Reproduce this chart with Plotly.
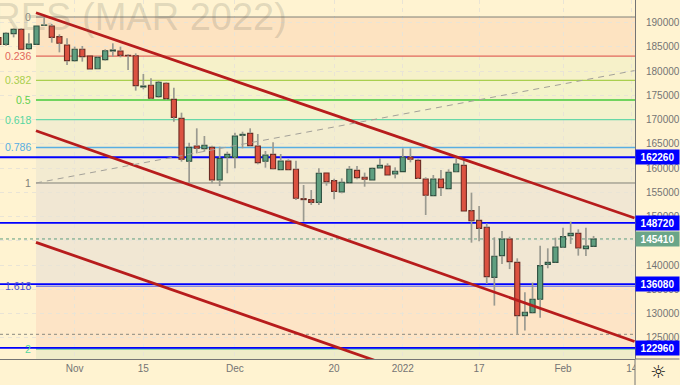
import plotly.graph_objects as go

# candle index, open, high, low, close (prices)
idx = list(range(79))
opens = [186920,185540,187740,188630,184650,185540,189460,189320,187120,185400,182170,184510,183130,180520,182380,184160,184160,183270,183200,176740,177090,174750,177500,174200,170280,161420,164580,164030,164300,157570,162240,162240,166780,167190,164580,161420,162860,159700,161490,159770,153720,153520,152960,159020,157430,155090,157020,159560,158120,157570,160040,160450,158810,159290,162310,161620,157780,154340,157780,155780,159280,160590,151250,149250,147810,137500,141970,145410,140590,129600,130220,132970,140180,140590,143690,146090,146570,143410,143890]
highs = [187460,188010,188840,188840,187810,189320,191240,189730,187600,186780,185060,185200,183130,183130,184510,185750,185060,183480,183680,179420,178530,177980,177710,176600,171450,165270,168220,166640,164650,164440,163410,167330,167530,168220,167050,163550,165330,162930,161830,161560,156540,155500,159970,159020,157850,157910,160450,160450,159090,160110,162030,161000,160180,164100,164100,161970,158120,158600,159630,159760,162030,162030,154960,152210,148640,145750,147050,145890,141420,134410,136410,144030,143480,145680,147740,148980,147400,147740,146030]
lows = [185060,185260,186980,184510,184370,185470,189390,185880,183890,181280,181970,181970,180250,180450,182170,183000,182860,180250,175990,176260,174340,174540,174060,169600,161350,157020,163060,163410,156880,156330,158950,159970,164100,164580,160800,160110,159770,159630,159630,153450,148980,152420,152420,156400,153590,154820,156880,157710,156190,157430,159840,158390,157910,159290,161210,157780,150350,154270,154270,155710,159210,151110,144650,144920,136130,131670,140250,139200,125830,126520,130090,129190,139360,140530,143620,144380,141970,141900,143820]
closes = [185540,187810,188630,184510,185610,189320,189530,186980,185750,182170,184510,183000,180450,182860,184230,184370,183270,183200,177020,176950,174410,177710,174340,170480,161830,164300,164100,164720,157570,162030,162860,166640,166980,164650,161140,162720,159900,161490,159700,153790,153520,152960,158950,157230,155230,157090,159770,158050,157710,159970,160590,158600,159360,162310,161830,157910,154410,157780,155990,159150,160860,151180,149180,147600,137640,141830,145410,140730,129600,130290,132970,139910,140590,143760,145890,146570,143550,143960,145410]

fib_names = ["0","0.236","0.382","0.5","0.618","0.786","1","1.618","2"]
fib_levels = [191175,183098,178100,174060,170020,164270,156950,135650,122725]
fib_colors = ["#808078","#e2685c","#a9cf4e","#6fd45e","#66d8a8","#58aee2","#808078","#8286e6","#66c8a0"]
fib_text_colors = ["#8c8c84","#e2685c","#a9cf4e","#5fd04e","#55d6a0","#58aee2","#808078","#4a50d0","#55d6a0"]
fib_widths = [1,1.4,1.4,2,1.4,1.4,1,1.6,1.6]
fib_fills = ["#fde3c1","#f6f1c9","#f4f3ca","#f3f2cd","#f3edd0","#f3ebd1","#f1e7d3","#fde4c6","#efecc9"]

key_levels = [162260,148720,136080,122960]
last_price = 145410
low_price = 125750

channel_x = [4.93,83.37]
channel_1 = [192060,149730]
channel_2 = [167730,124270]
channel_3 = [144720,101690]
trend_y = [156950,180130]

x_tick_vals = [10,19,31,44,53,63,74,83]
x_tick_text = ["Nov","15","Dec","20","2022","17","Feb","14"]
y_ticks = list(range(125000,195000,5000))
y_tick_text = ["" if t == 145000 else str(t) for t in y_ticks]

BG = "#fff3d1"
GREY = "#747474"
W, H = 680, 385
X_MIN, X_MAX = 0.214, 83.43
Y_MIN, Y_MAX = 120660, 194680

fig = go.Figure()

# wicks: one piece above and one below each body
body_hi = [max(o, c) for o, c in zip(opens, closes)]
body_lo = [min(o, c) for o, c in zip(opens, closes)]
wx, wy = [], []
for i, h, l, bh, bl in zip(idx, highs, lows, body_hi, body_lo):
    wx += [i, i, None, i, i, None]
    wy += [bh, h, None, l, bl, None]
fig.add_trace(go.Scatter(x=wx, y=wy, mode="lines", line=dict(color="#9a9a90", width=1.7), hoverinfo="skip", showlegend=False))

# bodies
fig.add_trace(go.Bar(x=idx, y=[h - l for h, l in zip(body_hi, body_lo)], base=body_lo, width=0.67,
    marker=dict(color=["#5f9f80" if c >= o else "#dc5241" for o, c in zip(opens, closes)],
                line=dict(color=["#2c4f3f" if c >= o else "#6b2a22" for o, c in zip(opens, closes)], width=1.1)),
    hoverinfo="skip", showlegend=False))

# channels
for ys in (channel_1, channel_2, channel_3):
    fig.add_trace(go.Scatter(x=channel_x, y=ys, mode="lines", line=dict(color="#b71c1c", width=2.8), hoverinfo="skip", showlegend=False))
fig.add_trace(go.Scatter(x=channel_x, y=trend_y, mode="lines", line=dict(color="#a3a199", width=1, dash="6px,5px"), hoverinfo="skip", showlegend=False))

shapes = []
lower = fib_levels[1:] + [Y_MIN]
for top, bot, col in zip(fib_levels, lower, fib_fills):
    shapes.append(dict(type="rect", xref="x", yref="y", x0=channel_x[0], x1=X_MAX, y0=bot, y1=top, fillcolor=col, line_width=0, layer="below"))
for lv, col, wd in zip(fib_levels, fib_colors, fib_widths):
    shapes.append(dict(type="line", xref="x", yref="y", x0=channel_x[0], x1=X_MAX, y0=lv, y1=lv, line=dict(color=col, width=wd), layer="between"))
for lv in key_levels:
    shapes.append(dict(type="line", xref="x", yref="y", x0=X_MIN, x1=X_MAX, y0=lv, y1=lv, line=dict(color="#0000ff", width=1.8), layer="between"))
shapes.append(dict(type="line", xref="x", yref="y", x0=X_MIN, x1=X_MAX, y0=last_price, y1=last_price, line=dict(color="#5f9f80", width=1, dash="dot"), layer="between"))
shapes.append(dict(type="line", xref="x", yref="y", x0=X_MIN, x1=X_MAX, y0=low_price, y1=low_price, line=dict(color="#8a8a80", width=1, dash="dot"), layer="between"))
# panel that cuts off the last date label at the price scale, with the scale's lines
shapes.append(dict(type="rect", xref="paper", yref="paper", x0=1, x1=1+44.5/635.5, y0=-26/359, y1=0, fillcolor=BG, line_width=0, layer="above"))
shapes.append(dict(type="line", xref="paper", yref="paper", x0=1, x1=1, y0=-26/359, y1=0, line=dict(color=GREY, width=1), layer="above"))
shapes.append(dict(type="line", xref="paper", yref="paper", x0=1, x1=1+44.5/635.5, y0=0, y1=0, line=dict(color=GREY, width=1), layer="above"))

ann = []
ann.append(dict(text="FUTURES (MAR 2022)", xref="paper", yref="paper", x=289/635.5, y=1-17/359, xanchor="right", yanchor="middle",
                showarrow=False, font=dict(family="Liberation Sans", size=38, color="rgba(105,105,95,0.2)")))
for name, lv, col in zip(fib_names, fib_levels, fib_text_colors):
    ann.append(dict(text=name, xref="paper", yref="y", x=33.5/635.5, y=lv, xanchor="right", yanchor="middle", showarrow=False,
                    font=dict(family="Liberation Sans", size=10.5, color=col)))
for lv in key_levels:
    ann.append(dict(text=f"<b>{lv}</b>", xref="paper", yref="y", x=636/635.5, y=lv, xanchor="left", yanchor="middle", showarrow=False,
                    width=43, height=14, bgcolor="#0000ff", borderpad=0, font=dict(family="Liberation Sans", size=10, color="#ffffff")))
ann.append(dict(text=f"<b>{last_price}</b>", xref="paper", yref="y", x=636/635.5, y=last_price, xanchor="left", yanchor="middle", showarrow=False,
                width=43, height=14, bgcolor="#6aa588", borderpad=0, font=dict(family="Liberation Sans", size=10, color="#ffffff")))
ann.append(dict(text="18", xref="x", yref="paper", x=0, y=-12.5/359, xanchor="center", yanchor="middle", showarrow=False, xshift=-1,
                font=dict(family="Liberation Sans", size=10, color=GREY)))
ann.append(dict(text="<b>☼</b>", xref="paper", yref="paper", x=658.5/635.5, y=-13/359, xanchor="center", yanchor="middle", showarrow=False,
                font=dict(family="DejaVu Sans", size=18, color="#111111")))

fig.update_layout(
    width=W, height=H, margin=dict(l=0, r=44.5, t=0, b=26, pad=0),
    paper_bgcolor=BG, plot_bgcolor=BG, showlegend=False,
    shapes=shapes, annotations=ann, dragmode=False, barmode="overlay",
    xaxis=dict(range=[X_MIN, X_MAX], tickmode="array", tickvals=x_tick_vals, ticktext=x_tick_text,
               showgrid=True, gridcolor="#e9e4d6", griddash="4px,4px", gridwidth=1, zeroline=False,
               showline=True, linecolor=GREY, linewidth=1, ticks="",
               tickfont=dict(family="Liberation Sans", size=10, color=GREY)),
    yaxis=dict(range=[Y_MIN, Y_MAX], side="right", tickmode="array", tickvals=y_ticks, ticktext=y_tick_text,
               showgrid=True, gridcolor="#e9e4d6", griddash="4px,4px", gridwidth=1, zeroline=False,
               showline=True, linecolor=GREY, linewidth=1, ticks="", ticklabelstandoff=8,
               tickfont=dict(family="Liberation Sans", size=10, color=GREY)),
)

fig.write_html("out.html", config=dict(displayModeBar=False), post_script="document.body.style.margin='0';")
